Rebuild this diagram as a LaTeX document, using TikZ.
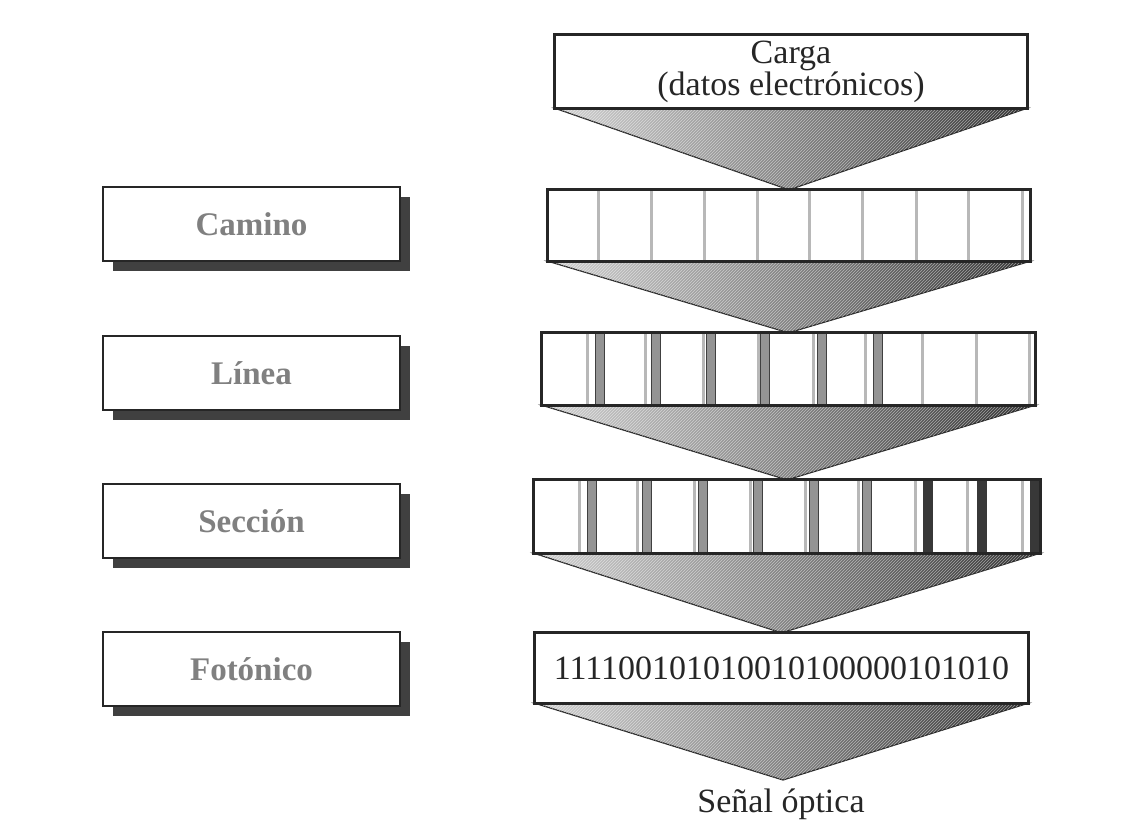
\documentclass[tikz,border=0pt]{standalone}
\usepackage{fontspec}
\setmainfont{Liberation Serif}
\usetikzlibrary{shadows,patterns}
\begin{document}
\begin{tikzpicture}[x=1pt,y=-1pt,
  lab/.style={draw=black!85, line width=2.5pt, fill=white, minimum width=297pt, minimum height=74pt, inner sep=0pt,
    font=\fontsize{33}{33}\selectfont\bfseries, text=black!50,
    drop shadow={shadow xshift=10pt, shadow yshift=-10pt, fill=black!75, opacity=1}},
  frame/.style={fill=white, inner sep=0pt},
  border/.style={draw=black!85, line width=3pt},
  funnel/.style={draw=black!85, line width=1.2pt, left color=black!18, middle color=black!48, right color=black!80},
  hatch/.style={pattern=north east lines, pattern color=white, opacity=0.5},
  light/.style={draw=black!28, line width=3pt},
  gbar/.style={draw=black!75, line width=0.8pt, fill=black!42},
  dbar/.style={fill=black!78},
  txt/.style={font=\fontsize{34}{30}\selectfont, text=black!85}]

\useasboundingbox (0,0) rectangle (1142,832);
\fill[white] (0,0) rectangle (1142,832);

% right column frames
\node[frame, txt, align=center, minimum width=472pt, minimum height=73pt] (carga) at (791,71.5) {Carga\\(datos electrónicos)};
\node[frame, minimum width=482pt, minimum height=71pt] (fcam) at (789,225.5) {};
\node[frame, minimum width=493pt, minimum height=72pt] (flin) at (788.5,369) {};
\node[frame, minimum width=506pt, minimum height=73pt] (fsec) at (787,516.5) {};
\node[frame, txt, minimum width=493pt, minimum height=70pt] (ffot) at (781.5,668) {111100101010010100000101010};
\coordinate (sig) at (783,780);
\node[txt, anchor=base, inner sep=0pt] (senal) at (781,812) {Señal óptica};

% funnels
\foreach \a/\b in {carga/fcam, fcam/flin, flin/fsec, fsec/ffot}{
  \draw[funnel] (\a.south west) -- (\a.south east) -- (\b.north) -- cycle;
  \fill[hatch] (\a.south west) -- (\a.south east) -- (\b.north) -- cycle;
}
\draw[funnel] (ffot.south west) -- (ffot.south east) -- (sig) -- cycle;
\fill[hatch] (ffot.south west) -- (ffot.south east) -- (sig) -- cycle;

% dividers: Camino
\foreach \x in {598,651,704,757,809,862,916,968,1022}
  \draw[light] (\x,191) -- (\x,260);
% dividers: Linea
\foreach \x in {587,645,703,758,813,865,922,976,1029}
  \draw[light] (\x,334) -- (\x,404);
\foreach \x in {600,656,711,765,822,878}
  \draw[gbar] (\x-4.5,333) rectangle (\x+4.5,405);
% dividers: Seccion
\foreach \x in {579,637,694,750,805,858,915,967,1022}
  \draw[light] (\x,481) -- (\x,552);
\foreach \x in {592,647,703,758,814,867}
  \draw[gbar] (\x-4.5,480) rectangle (\x+4.5,553);
\foreach \x in {928,982,1035}
  \fill[dbar] (\x-5,480) rectangle (\x+5,553);

% borders
\foreach \n in {carga,fcam,flin,fsec,ffot}
  \draw[border] (\n.north west) rectangle (\n.south east);

% left labels
\node[lab] (camino) at (251.5,224) {Camino};
\node[lab] (linea) at (251.5,373) {Línea};
\node[lab] (seccion) at (251.5,521) {Sección};
\node[lab] (fotonico) at (251.5,669) {Fotónico};
\end{tikzpicture}
\end{document}
